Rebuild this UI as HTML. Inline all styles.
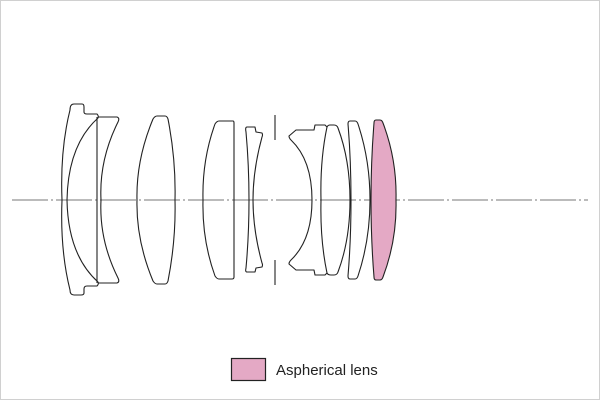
<!DOCTYPE html>
<html><head><style>
html,body{margin:0;padding:0;background:#fff}
svg{display:block}
</style></head><body>
<svg width="600" height="400" viewBox="0 0 600 400" xmlns="http://www.w3.org/2000/svg">
<rect x="0.5" y="0.5" width="599" height="399" fill="#fff" stroke="#d0d0d0"/>
<line x1="12" y1="200" x2="588" y2="200" stroke="#777" stroke-width="1" stroke-dasharray="36,3,2,3"/>
<g fill="none" stroke="#222" stroke-width="1.1" stroke-linejoin="round">
<!-- lens 1 -->
<path d="M74,104 L82,104 Q84,104 84,107 L84,112 Q84,114 87,114 L97,114 Q99,116 98,118 Q68,145 67,200 Q68,255 98,282 Q99,284 97,286 L87,286 Q84,286 84,289 L84,293 Q84,295 81,295 L74,295 Q70,295 70,290 Q60,250 62,200 Q60,150 70,110 Q70,104 74,104 Z"/>
<line x1="97" y1="117" x2="97" y2="283"/>
<!-- lens 3 -->
<path d="M98,117 L117,117 Q120,118 118,122 Q99,160 101,200 Q99,240 118,278 Q120,282 117,283 L98,283"/>
<!-- lens 4 -->
<path d="M157,116 L165,116 Q167,116 168,119 Q176,160 175,200 Q176,240 168,281 Q167,284 165,284 L157,284 Q155,284 153,281 Q136,240 137,200 Q136,160 153,119 Q155,116 157,116 Z"/>
<!-- lens 5 -->
<path d="M219,121 L233,121 Q234,121 234,123 L234,277 Q234,279 232,279 L219,279 Q217,279 215,276 Q202,240 203,200 Q202,160 215,124 Q217,121 219,121 Z"/>
<!-- lens 6 -->
<path d="M247,127 L255,127 L256,132 L262,133 Q263,135 262,137 Q253,170 253,200 Q253,230 262,263 Q263,265 262,267 L256,268 L255,272 L247,272 Q245,272 246,268 Q249,235 249,200 Q249,165 246,132 Q245,127 247,127 Z"/>
<!-- stop -->
<line x1="275" y1="115" x2="275" y2="140"/>
<line x1="275" y1="260" x2="275" y2="285"/>
<!-- lens 7 -->
<path d="M327,127 L325,125 L315,125 L314,130 L296,130 L289,136 Q289,138 291,140 Q312,160 312,200 Q312,240 291,260 Q289,262 289,264 L296,270 L314,270 L315,275 L325,275 L327,273"/>
<!-- lens 8 -->
<path d="M327,127 Q320,160 321,200 Q320,240 327,273 Q328,275 331,275 L334,275 Q337,275 338,272 Q350,240 350,200 Q350,160 338,128 Q337,125 334,125 L330,125 Q328,125 327,127 Z"/>
<!-- lens 9 -->
<path d="M350,121 L355,121 Q357,121 358,124 Q370,160 370,200 Q370,240 358,276 Q357,279 355,279 L350,279 Q348,279 348,276 Q351,240 351,200 Q351,160 348,124 Q348,121 350,121 Z"/>
</g>
<!-- lens 10 aspherical -->
<path d="M376,120 L380,120 Q382,120 383,123 Q397,160 396,200 Q397,240 383,277 Q382,280 380,280 L376,280 Q374,280 374,277 Q371,240 371,200 Q371,160 374,123 Q374,120 376,120 Z" fill="#e4a9c5" stroke="#222" stroke-width="1.1"/>
<!-- legend -->
<rect x="231.5" y="358.5" width="34" height="22" fill="#e4a9c5" stroke="#222" stroke-width="1.2"/>
<text x="276" y="375" font-family="Liberation Sans, sans-serif" font-size="15" fill="#222">Aspherical lens</text>
</svg>
</body></html>
